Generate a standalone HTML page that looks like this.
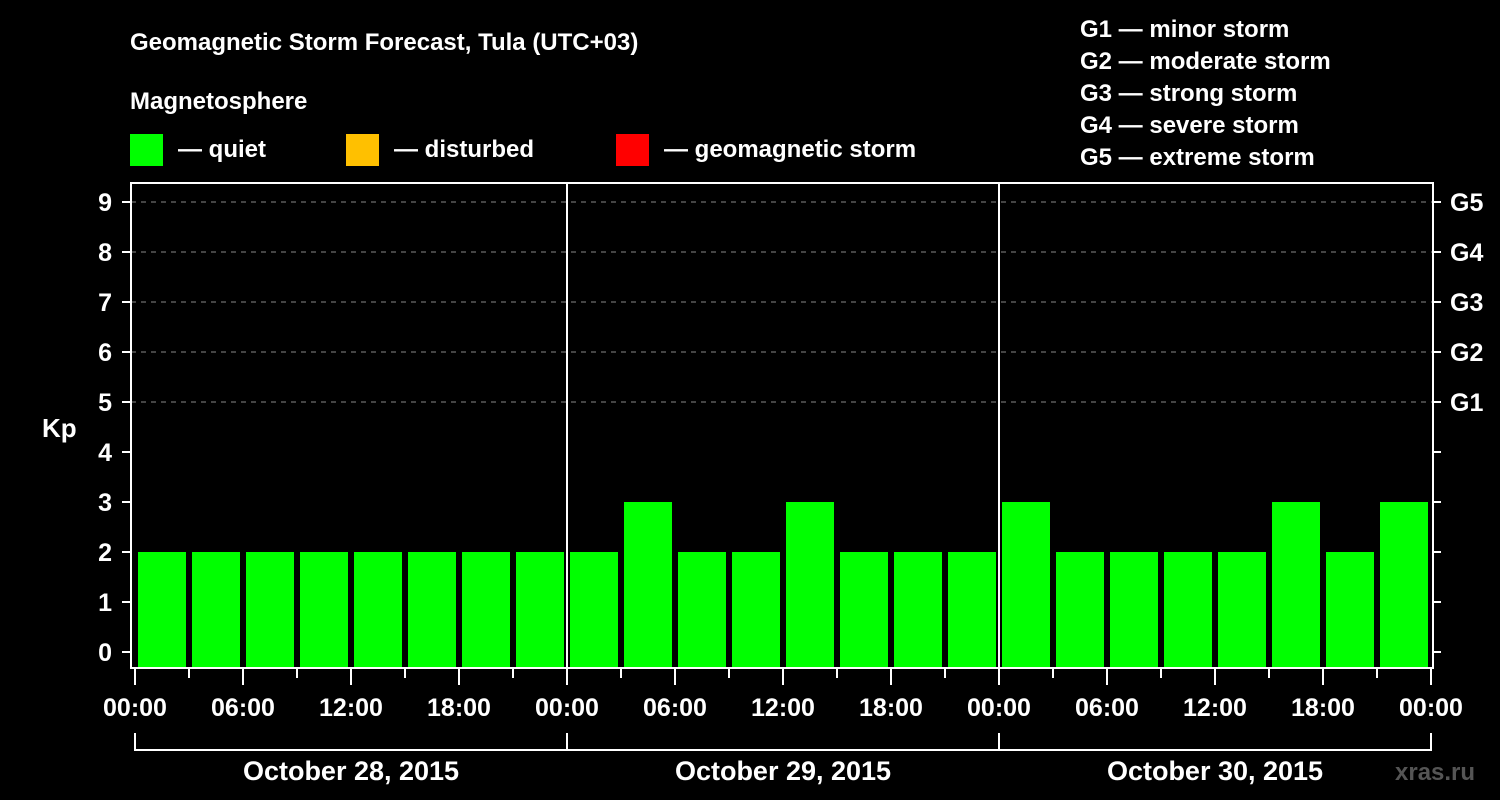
<!DOCTYPE html>
<html><head><meta charset="utf-8"><style>
html,body{margin:0;padding:0;background:#000;}
svg{display:block;}
text{font-family:"Liberation Sans",Arial,sans-serif;font-weight:bold;fill:#fff;}
</style></head><body>
<svg id="chart" width="1500" height="800" viewBox="0 0 1500 800" xmlns="http://www.w3.org/2000/svg">
<rect width="1500" height="800" fill="#000"/>
<text x="130" y="50" font-size="24">Geomagnetic Storm Forecast, Tula (UTC+03)</text>
<text x="130" y="109" font-size="24">Magnetosphere</text>
<g>
<rect x="130" y="134" width="33" height="32" fill="#00ff00"/>
<text x="178" y="157" font-size="24">— quiet</text>
<rect x="346" y="134" width="33" height="32" fill="#ffc000"/>
<text x="394" y="157" font-size="24">— disturbed</text>
<rect x="616" y="134" width="33" height="32" fill="#ff0000"/>
<text x="664" y="157" font-size="24">— geomagnetic storm</text>
</g>
<g font-size="24">
<text x="1080" y="37">G1 — minor storm</text>
<text x="1080" y="69">G2 — moderate storm</text>
<text x="1080" y="101">G3 — strong storm</text>
<text x="1080" y="133">G4 — severe storm</text>
<text x="1080" y="165">G5 — extreme storm</text>
</g>
<text x="42" y="437" font-size="26">Kp</text>
<text x="1395" y="780" font-size="24" fill="#555" style="fill:#555">xras.ru</text>
<g id="plot"></g>
</svg>
<script>
const days = ["October 28, 2015","October 29, 2015","October 30, 2015"];
const kpValues = [2,2,2,2,2,2,2,2, 2,3,2,2,3,2,2,2, 3,2,2,2,2,3,2,3];
const kpTicks = [0,1,2,3,4,5,6,7,8,9];
const gLabels = ["G1","G2","G3","G4","G5"];
const gLevels = [5,6,7,8,9];
const hourLabels = ["00:00","06:00","12:00","18:00"];

const NS="http://www.w3.org/2000/svg";
const plot=document.getElementById('plot');
const X0=135, HOUR=18, LEFT=131, RIGHT=1433, TOP=183, BOTTOM=668;
const xs=h=>X0+h*HOUR;
const ys=v=>652-50*v;
function mk(tag,attrs,parent){const e=document.createElementNS(NS,tag);for(const k in attrs)e.setAttribute(k,attrs[k]);(parent||plot).appendChild(e);return e;}

// grid lines
gLevels.forEach((v,i)=>{
  const l=mk('line',{x1:LEFT,x2:RIGHT,y1:ys(v),y2:ys(v),stroke:'#888','stroke-dasharray':'5,5','stroke-width':1});
  
  
  const t=mk('line',{x1:RIGHT,x2:RIGHT+8,y1:ys(v),y2:ys(v),stroke:'#fff','stroke-width':2});
  
  
  const tx=mk('text',{x:1450,y:ys(v)+9,'font-size':25});
  tx.textContent=gLabels[i];
  
  
});
// right minor ticks
kpTicks.forEach(v=>{ if(gLevels.indexOf(v)<0){
  const t=mk('line',{x1:RIGHT,x2:RIGHT+8,y1:ys(v),y2:ys(v),stroke:'#fff','stroke-width':2});
  
  
}});
// bars
kpValues.forEach((v,i)=>{
  const x=xs(i*3)+3, y=ys(v);
  const col=v>=5?'#ff0000':(v>=4?'#ffc000':'#00ff00');
  const b=mk('rect',{x:x,y:y,width:48,height:BOTTOM-y,fill:col});
  
  
});
// left ticks and labels
kpTicks.forEach(v=>{
  const t=mk('line',{x1:LEFT-9,x2:LEFT,y1:ys(v),y2:ys(v),stroke:'#fff','stroke-width':2});
  
  
  const tx=mk('text',{x:112,y:ys(v)+9,'font-size':25,'text-anchor':'end'});
  tx.textContent=String(v);
  
  
});
// day separators
for(let d=1;d<days.length;d++){
  const l=mk('line',{x1:xs(d*24),x2:xs(d*24),y1:TOP,y2:BOTTOM,stroke:'#fff','stroke-width':2});
  
  
}
// frame
const fr=mk('rect',{x:LEFT,y:TOP,width:RIGHT-LEFT,height:BOTTOM-TOP,fill:'none',stroke:'#fff','stroke-width':2});


// x ticks
for(let h=0;h<=days.length*24;h+=3){
  const major=h%6===0;
  const t=mk('line',{x1:xs(h),x2:xs(h),y1:BOTTOM,y2:BOTTOM+(major?17:10),stroke:'#fff','stroke-width':2});
  
  
  if(major){
    const tx=mk('text',{x:xs(h),y:716,'font-size':25,'text-anchor':'middle'});
    tx.textContent=hourLabels[(h%24)/6];
    
    
  }
}
// day brackets
const br=mk('path',{d:`M${xs(0)},733 V750 H${xs(days.length*24)} V733`,fill:'none',stroke:'#fff','stroke-width':2});


days.forEach((d,i)=>{
  if(i>0){const l=mk('line',{x1:xs(i*24),x2:xs(i*24),y1:733,y2:750,stroke:'#fff','stroke-width':2});
  
  }
  const tx=mk('text',{x:xs(i*24+12),y:780,'font-size':27,'text-anchor':'middle'});
  tx.textContent=d;
  
  
});
</script>
</body></html>
